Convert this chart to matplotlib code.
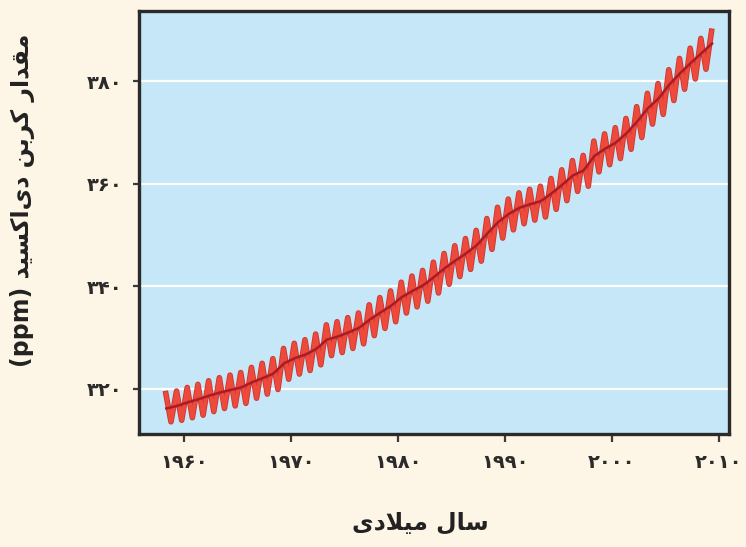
import matplotlib
matplotlib.use("Agg")
import matplotlib.pyplot as plt
import numpy as np

# ---------------- data ----------------
years = list(range(1958, 2010))

# annual mean CO2 (ppm) - dark trend line
annual_mean = [316.2, 316.7, 317.4, 318.0, 318.7, 319.3, 319.8, 320.3, 321.3, 322.1,
               323.0, 325.0, 326.0, 326.7, 327.8, 329.6, 330.2, 331.0, 331.9, 333.5,
               334.9, 336.2, 337.9, 339.1, 340.2, 341.8, 343.5, 345.0, 346.4, 348.0,
               350.3, 352.5, 354.1, 355.3, 356.0, 356.6, 358.1, 359.8, 361.6, 362.6,
               365.4, 366.8, 368.0, 369.8, 372.1, 374.7, 376.6, 379.3, 381.5, 383.5,
               385.4, 387.3]

# seasonal maxima (spring) for each year 1958-2009
season_peak = [319.1, 319.6, 320.3, 320.9, 321.6, 322.2, 322.7, 323.2, 324.2, 325.0,
               325.9, 327.9, 328.9, 329.6, 330.7, 332.5, 333.1, 333.9, 334.8, 336.4,
               337.8, 339.1, 340.8, 342.0, 343.1, 344.7, 346.4, 347.9, 349.3, 350.9,
               353.2, 355.4, 357.0, 358.2, 358.9, 359.5, 361.0, 362.7, 364.5, 365.5,
               368.3, 369.7, 370.9, 372.7, 375.0, 377.6, 379.5, 382.2, 384.4, 386.4,
               388.3, 389.7]

# seasonal minima (autumn) for each year 1958-2008
season_trough = [313.6, 313.9, 314.4, 314.9, 315.6, 316.2, 316.7, 317.2, 318.2, 319.0,
                 319.9, 321.9, 322.9, 323.6, 324.7, 326.5, 327.1, 327.9, 328.8, 330.4,
                 331.8, 333.1, 334.8, 336.0, 337.1, 338.7, 340.4, 341.9, 343.3, 344.9,
                 347.2, 349.4, 351.0, 352.2, 352.9, 353.5, 355.0, 356.7, 358.5, 359.5,
                 362.3, 363.7, 364.9, 366.7, 369.0, 371.6, 373.5, 376.2, 378.4, 380.4,
                 382.3]

x_ticks = [1960, 1970, 1980, 1990, 2000, 2010]
x_tick_labels = ["\u06f1\u06f9\u06f6\u06f0", "\u06f1\u06f9\u06f7\u06f0", "\u06f1\u06f9\u06f8\u06f0",
                 "\u06f1\u06f9\u06f9\u06f0", "\u06f2\u06f0\u06f0\u06f0", "\u06f2\u06f0\u06f1\u06f0"]
y_ticks = [320, 340, 360, 380]
y_tick_labels = ["\u06f3\u06f2\u06f0", "\u06f3\u06f4\u06f0", "\u06f3\u06f6\u06f0", "\u06f3\u06f8\u06f0"]

# Persian labels, already shaped (presentation forms) in visual order
x_label = "\uFEEF\uFEA9\uFEFC\uFEF4\uFEE3 \uFEDD\uFE8E\uFEB3"          # سال میلادی
y_label = ("(ppm) " + "\uFEAA\uFEF4\uFEB4\uFEDB\uFE8D\uFEEF\uFEA9" + " "
           + "\uFEE6\uFE91\uFEAE\uFEDB" + " " + "\uFEAD\uFE8D\uFEAA\uFED8\uFEE3")  # مقدار کربن دی‌اکسید (ppm)

# ---------------- figure ----------------
plt.rcParams['font.family'] = ['DejaVu Sans']
fig = plt.figure(figsize=(7.46, 5.47), dpi=100)
fig.patch.set_facecolor('#fdf5e5')
ax = fig.add_axes([0.1863, 0.2066, 0.7909, 0.7733])
ax.set_facecolor('#c6e7f7')

yrs = np.array(years, dtype=float)
peak_t = yrs + 0.3
trough_t = yrs[:-1] + 0.78
zig_t = np.empty(len(peak_t) + len(trough_t))
zig_v = np.empty_like(zig_t)
zig_t[0::2] = peak_t
zig_t[1::2] = trough_t
zig_v[0::2] = season_peak
zig_v[1::2] = season_trough

for y in y_ticks:
    ax.axhline(y, color='white', lw=1.6, zorder=1)

ax.plot(zig_t, zig_v, color='#c8352f', lw=4.0, zorder=2, solid_joinstyle='round')
ax.plot(zig_t, zig_v, color='#ee4a3c', lw=2.8, zorder=3, solid_joinstyle='round')
ax.plot(yrs + 0.35, annual_mean, color='#a81c2a', lw=1.8, zorder=4)

ax.set_xlim(1955.79, 2010.93)
ax.set_ylim(311.23, 393.64)

ax.set_xticks(x_ticks)
ax.set_xticklabels(x_tick_labels, fontsize=14, fontweight='bold', color='#2b2b2b')
ax.set_yticks(y_ticks)
ax.set_yticklabels(y_tick_labels, fontsize=14, fontweight='bold', color='#2b2b2b')
ax.tick_params(axis='x', direction='out', length=6, width=1.6, color='#3a3a3a', pad=8)
ax.tick_params(axis='y', direction='out', length=4, width=1.6, color='#3a3a3a', pad=8)

for s in ax.spines.values():
    s.set_color('#2a2a2a')
    s.set_linewidth(2.4)

fig.text(0.563, 0.045, x_label, fontsize=17, fontweight='bold', color='#222222',
         ha='center', va='center')
fig.text(0.030, 0.633, y_label, fontsize=17, fontweight='bold', color='#222222',
         ha='center', va='center', rotation=90)

fig.savefig('out.png', dpi=100, facecolor=fig.get_facecolor())
